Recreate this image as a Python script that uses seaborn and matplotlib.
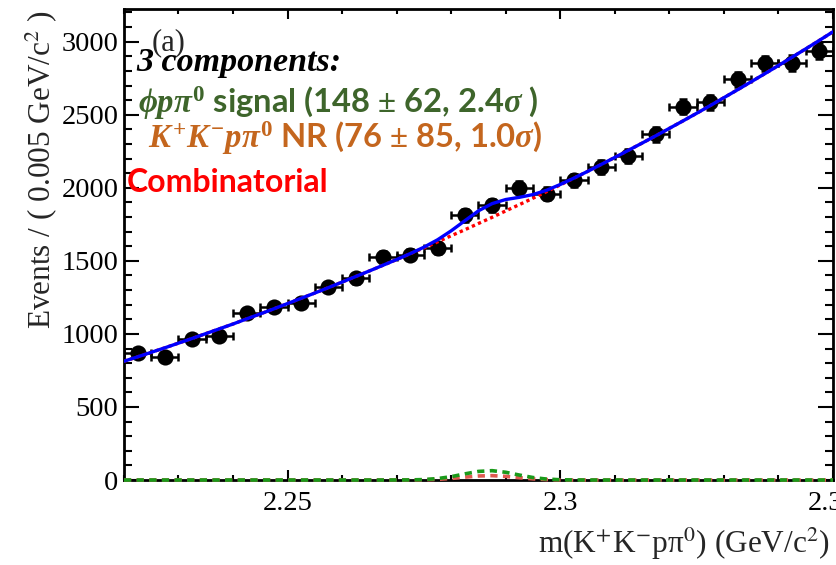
import numpy as np
import pandas as pd
import matplotlib
matplotlib.use("Agg")
import matplotlib.pyplot as plt
import seaborn as sns
from matplotlib.ticker import MultipleLocator, FixedLocator

# ---------------- data ----------------
mass = [2.2225, 2.2275, 2.2325, 2.2375, 2.2425, 2.2475, 2.2525, 2.2575,
        2.2625, 2.2675, 2.2725, 2.2775, 2.2825, 2.2875, 2.2925, 2.2975,
        2.3025, 2.3075, 2.3125, 2.3175, 2.3225, 2.3275, 2.3325, 2.3375,
        2.3425, 2.3475]
events = [868, 845, 964, 989, 1142, 1183, 1213, 1320, 1382, 1526, 1542, 1590,
          1811, 1880, 2001, 1960, 2051, 2143, 2216, 2365, 2554, 2584, 2744,
          2851, 2855, 2938]
events_err = [29, 29, 31, 31, 34, 34, 35, 36, 37, 39, 39, 40, 43, 43, 45, 44,
              45, 46, 47, 49, 51, 51, 52, 53, 53, 54]
bin_half_width = 0.0025

# fit curves sampled every 0.0025 GeV/c^2 from 2.22 to 2.35
curve_mass = np.linspace(2.22, 2.35, 53)
combinatorial = [813, 843, 874, 905, 937, 969, 1002, 1035, 1068, 1103, 1137,
                 1172, 1208, 1244, 1280, 1317, 1355, 1393, 1431, 1470, 1509,
                 1549, 1589, 1630, 1672, 1713, 1756, 1798, 1842, 1885, 1929,
                 1974, 2020, 2066, 2112, 2160, 2208, 2257, 2306, 2356, 2407,
                 2458, 2510, 2563, 2617, 2671, 2726, 2781, 2837, 2894, 2951,
                 3009, 3068]
signal = [0] * 20 + [0.2, 0.8, 3.2, 9.8, 23, 42, 59, 64, 53, 34, 17, 6.4, 1.9,
                     0.4, 0.1] + [0] * 18
nonres = [0] * 22 + [1.5, 4.6, 10.8, 19.7, 27.6, 29.9, 24.9, 16.0, 7.9, 3.0,
                     0.9, 0.2] + [0] * 19
total = [c + s + n for c, s, n in zip(combinatorial, signal, nonres)]

legend_lines = [
    "3 components:",
    r"$\phi p\pi^0$ signal (148 $\pm$ 62, 2.4$\sigma$ )",
    r" $K^{+}K^{-}p\pi^{0}$ NR (76 $\pm$ 85, 1.0$\sigma$)",
    "Combinatorial",
]
legend_colors = ["black", "#3e652b", "#c4661e", "#ff0000"]

# ---------------- style ----------------
sns.set_theme(style="ticks")
plt.rcParams["font.family"] = ["Liberation Serif", "DejaVu Serif"]
plt.rcParams["mathtext.fontset"] = "custom"
plt.rcParams["mathtext.it"] = "Liberation Serif:italic:bold"
plt.rcParams["mathtext.rm"] = "Liberation Serif:bold"
plt.rcParams["mathtext.bf"] = "Liberation Serif:bold"

fig = plt.figure(figsize=(8.37, 5.65), dpi=100)
ax = fig.add_axes([0.1481, 0.1504, 0.8471, 0.8337])

df = pd.DataFrame({"mass": mass, "events": events})
ax.errorbar(mass, events, xerr=bin_half_width, yerr=events_err, fmt="none",
            ecolor="black", elinewidth=1.8, capsize=3, capthick=1.8, zorder=3)
sns.scatterplot(data=df, x="mass", y="events", color="black", s=135,
                edgecolor="black", linewidth=0, ax=ax, zorder=4)

sns.lineplot(x=curve_mass, y=nonres, color="#e05a50", linestyle=(0, (2, 1.5)),
             linewidth=2.6, ax=ax, zorder=5, clip_on=False)
sns.lineplot(x=curve_mass, y=signal, color="#1a9a1a", linestyle=(0, (2, 1.5)),
             linewidth=2.6, ax=ax, zorder=5, clip_on=False)
sns.lineplot(x=curve_mass, y=combinatorial, color="red", linestyle=(0, (1, 1)),
             linewidth=2.4, ax=ax, zorder=6)
sns.lineplot(x=curve_mass, y=total, color="#0000ff", linewidth=2.4, ax=ax,
             zorder=7)

ax.set_xlim(2.22, 2.35)
ax.set_ylim(0, 3224)
ax.xaxis.set_major_locator(FixedLocator([2.25, 2.30, 2.35]))
ax.set_xticklabels(["2.25", "2.3", "2.35"])
ax.xaxis.set_minor_locator(MultipleLocator(0.01))
ax.yaxis.set_major_locator(MultipleLocator(500))
ax.yaxis.set_minor_locator(MultipleLocator(100))

for sp in ax.spines.values():
    sp.set_linewidth(2.0)
    sp.set_color("black")
ax.tick_params(axis="both", which="both", direction="in", top=True, right=True,
               width=1.5, colors="black", labelsize=20.5)
ax.tick_params(axis="x", which="major", length=7, pad=8)
ax.tick_params(axis="x", which="minor", length=3.5)
ax.tick_params(axis="y", which="major", length=11, pad=4)
ax.tick_params(axis="y", which="minor", length=5.5)
for lab in ax.get_xticklabels() + ax.get_yticklabels():
    lab.set_family("Liberation Serif")

ax.set_xlabel(r"m(K$^{+}$K$^{-}$pπ$^{0}$) (GeV/c$^{2}$)", fontsize=22.5,
              loc="right", math_fontfamily="stix", family="Liberation Serif")
ax.set_ylabel(r"Events / ( 0.005 GeV/c$^{2}$ )", fontsize=22.5, loc="top",
              math_fontfamily="stix", family="Liberation Serif")
ax.xaxis.set_label_coords(0.996, -0.098)
ax.yaxis.set_label_coords(-0.092, 0.998)

# ---------------- annotations ----------------
W, H = 837.0, 565.0
fig.text(152 / W, 1 - 43 / H, "(a)", fontsize=22, ha="left", va="center",
         family="Liberation Serif")
fig.text(136 / W, 1 - 62 / H, legend_lines[0], fontsize=24.5, ha="left",
         va="center", family="Liberation Serif", fontweight="bold",
         style="italic", color=legend_colors[0])
fig.text(138 / W, 1 - 103 / H, legend_lines[1], fontsize=23.6, ha="left",
         va="center", family="Lato", fontweight="bold", color=legend_colors[1])
fig.text(141 / W, 1 - 138 / H, legend_lines[2], fontsize=23.6, ha="left",
         va="center", family="Lato", fontweight="bold", color=legend_colors[2])
fig.text(127 / W, 1 - 182 / H, legend_lines[3], fontsize=23, ha="left",
         va="center", family="Lato", fontweight="bold", color=legend_colors[3])

fig.savefig("out.png", dpi=100)
